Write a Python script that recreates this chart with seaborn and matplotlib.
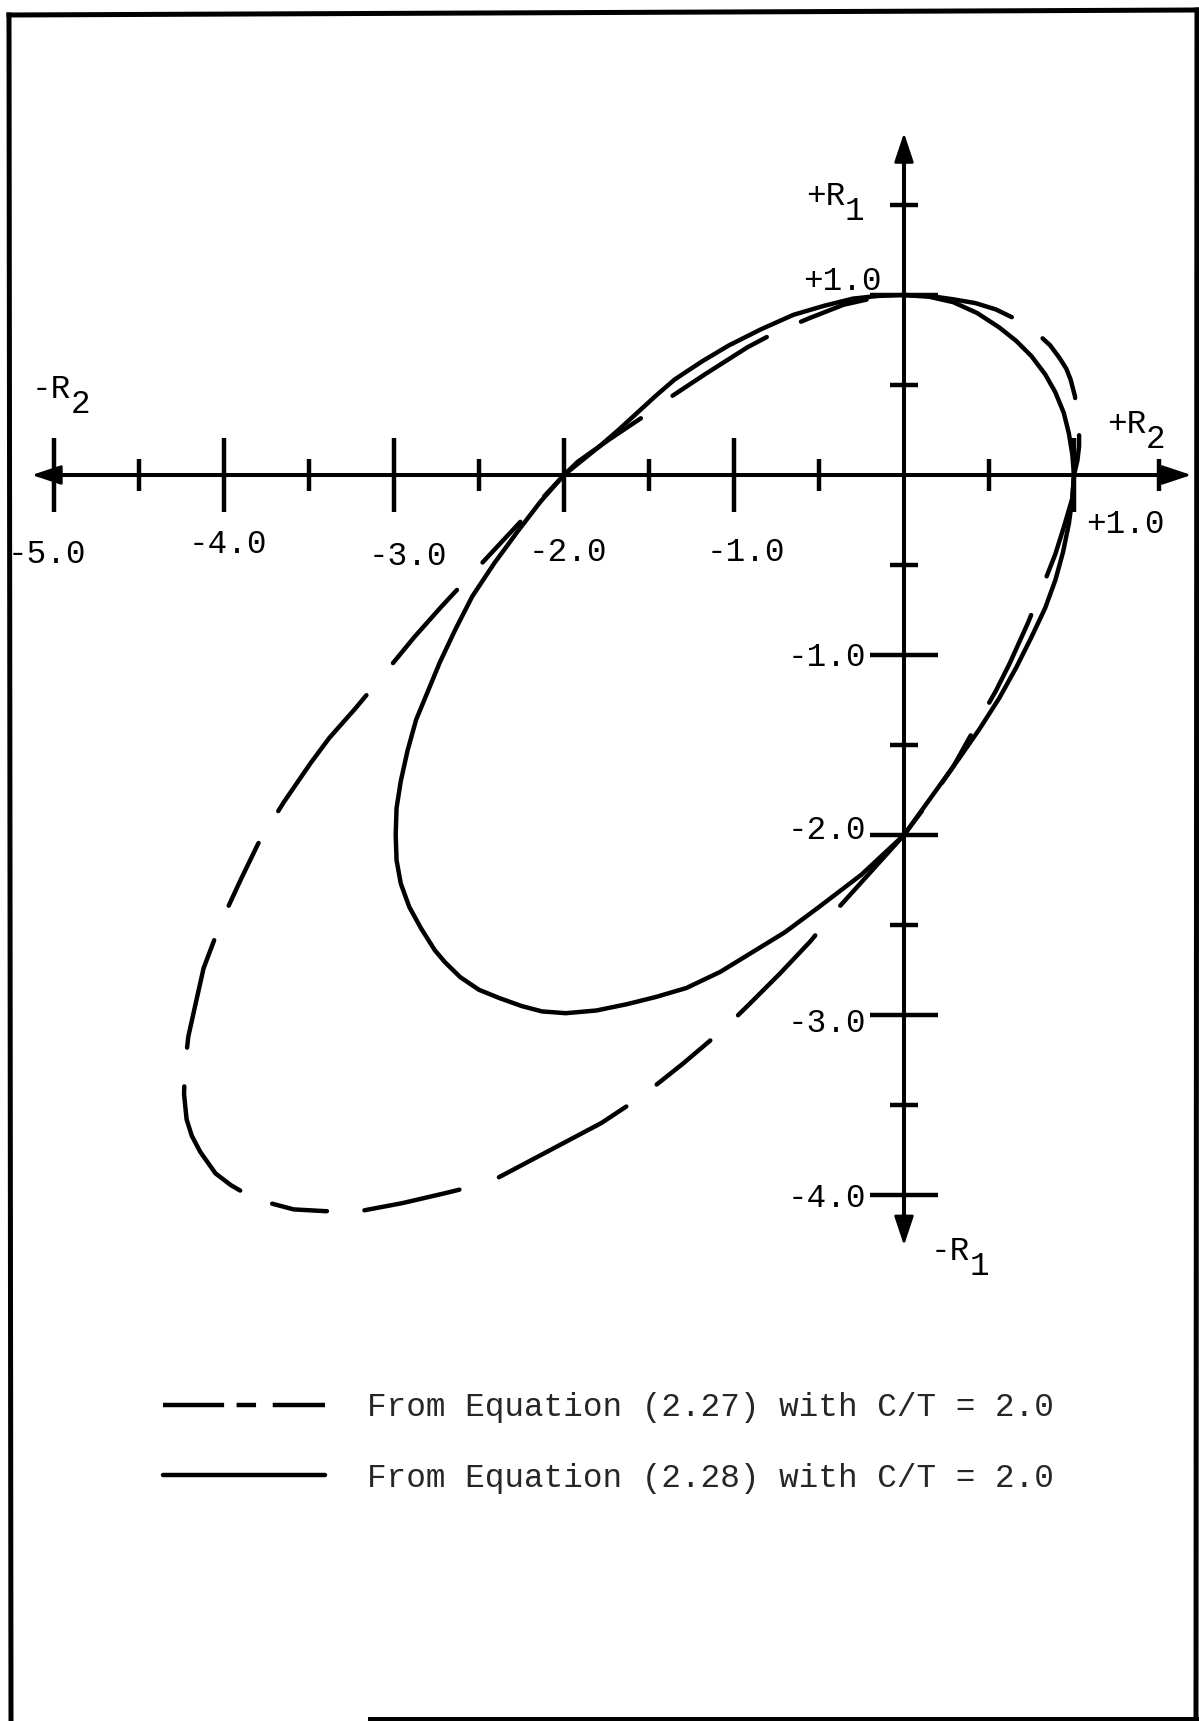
import matplotlib
matplotlib.use("Agg")
import matplotlib.pyplot as plt
from matplotlib.lines import Line2D
import seaborn as sns

# ---- curves in the (R2, R1) plane ----------------------------------------
# Equation (2.27), C/T = 2.0  (dashed)
eq227_r2 = [0.00, 0.15, 0.29, 0.42, 0.54, 0.66, 0.78, 0.86, 0.915, 0.955,
            0.98, 1.005, 1.02, 1.03, 1.03, 1.02, 1.00, 0.99, 0.94, 0.89,
            0.83, 0.73, 0.62, 0.54, 0.42, 0.29, 0.15, 0.00, -0.21, -0.42,
            -0.55, -0.73, -0.91, -1.05, -1.30, -1.54, -1.78, -2.12, -2.44,
            -2.70, -2.95, -3.18, -3.40, -3.59, -3.75, -3.86, -3.96, -4.05,
            -4.14, -4.19, -4.22, -4.235, -4.23, -4.21, -4.17, -4.12, -4.02,
            -3.90, -3.80, -3.65, -3.49, -3.38, -3.23, -3.08, -2.88, -2.72,
            -2.36, -2.00, -1.92, -1.73, -1.54, -1.41, -1.17, -0.92, -0.76,
            -0.56, -0.355, -0.17, 0.00]
eq227_r1 = [1.00, 0.995, 0.976, 0.955, 0.92, 0.865, 0.79, 0.72, 0.65, 0.59,
            0.53, 0.44, 0.345, 0.25, 0.16, 0.08, 0.00, -0.13, -0.29, -0.44,
            -0.585, -0.82, -1.05, -1.20, -1.40, -1.62, -1.81, -2.00, -2.22,
            -2.44, -2.59, -2.77, -2.94, -3.07, -3.27, -3.45, -3.60, -3.77,
            -3.93, -3.99, -4.045, -4.086, -4.09, -4.08, -4.04, -4.00, -3.945,
            -3.88, -3.76, -3.67, -3.58, -3.44, -3.29, -3.12, -2.95, -2.74,
            -2.49, -2.245, -2.05, -1.82, -1.60, -1.46, -1.30, -1.13, -0.90,
            -0.73, -0.365, 0.00, 0.073, 0.20, 0.32, 0.41, 0.56, 0.71, 0.79,
            0.87, 0.946, 0.985, 1.00]

# Equation (2.28), C/T = 2.0  (solid)
eq228_r2 = [0.00, 0.15, 0.29, 0.43, 0.56, 0.66, 0.75, 0.83, 0.89, 0.94,
            0.97, 0.99, 1.00, 0.99, 0.97, 0.935, 0.89, 0.83, 0.75, 0.66,
            0.56, 0.445, 0.32, 0.16, 0.00, -0.25, -0.50, -0.70, -0.89, -1.08,
            -1.28, -1.46, -1.63, -1.81, -1.99, -2.13, -2.25, -2.38, -2.50,
            -2.61, -2.70, -2.76, -2.84, -2.91, -2.96, -2.985, -2.99, -2.985,
            -2.96, -2.92, -2.87, -2.80, -2.73, -2.64, -2.54, -2.41, -2.27,
            -2.14, -2.00, -1.895, -1.79, -1.68, -1.57, -1.46, -1.35, -1.19,
            -1.03, -0.84, -0.65, -0.47, -0.30, -0.15, 0.00]
eq228_r1 = [1.00, 0.99, 0.96, 0.90, 0.82, 0.745, 0.66, 0.56, 0.46, 0.345,
            0.23, 0.115, 0.00, -0.13, -0.27, -0.43, -0.585, -0.74, -0.90,
            -1.07, -1.24, -1.41, -1.58, -1.79, -2.00, -2.22, -2.40, -2.54,
            -2.65, -2.76, -2.85, -2.90, -2.94, -2.975, -2.99, -2.98, -2.95,
            -2.906, -2.86, -2.79, -2.707, -2.64, -2.52, -2.40, -2.27, -2.14,
            -2.00, -1.85, -1.70, -1.53, -1.36, -1.20, -1.04, -0.86, -0.675,
            -0.49, -0.31, -0.15, 0.00, 0.08, 0.16, 0.25, 0.345, 0.44, 0.53,
            0.63, 0.72, 0.81, 0.89, 0.94, 0.98, 0.995, 1.00]

# ---- axis ticks and labels ------------------------------------------------
r2_major = [-5, -4, -3, -2, -1, 1]
r2_minor = [-4.5, -3.5, -2.5, -1.5, -0.5, 0.5, 1.5]
r2_labels = ["-5.0", "-4.0", "-3.0", "-2.0", "-1.0", "+1.0"]
r1_major = [1, -1, -2, -3, -4]
r1_minor = [1.5, 0.5, -0.5, -1.5, -2.5, -3.5]
r1_labels = ["+1.0", "-1.0", "-2.0", "-3.0", "-4.0"]
legend_labels = ["From Equation (2.27) with C/T = 2.0",
                 "From Equation (2.28) with C/T = 2.0"]

# ---- style ------------------------------------------------------------------
sns.set_theme(style="white")
plt.rcParams["font.family"] = ["Liberation Mono", "DejaVu Sans"]
plt.rcParams["lines.scale_dashes"] = False
FS = 23.5
LW = 3.2
AX_LW = 2.9
curve_dash = (0, (80, 27, 50, 27, 105, 30, 70, 27, 40, 25, 90, 28))
legend_dash = (0, (44, 9, 14, 12, 70, 28))

W, H = 1199, 1721
fig = plt.figure(figsize=(W / 100, H / 100), dpi=100)
ax = fig.add_axes([0, 0, 1, 1])
# origin at pixel (904, 475); 170 px per unit along R2, 180 px per unit along R1
ax.set_xlim(-904 / 170, (W - 904) / 170)
ax.set_ylim(-(H - 475) / 180, 475 / 180)
ax.set_facecolor("white")

# curves
sns.lineplot(x=eq228_r2, y=eq228_r1, sort=False, estimator=None, ax=ax,
             color="black", lw=LW, solid_joinstyle="round",
             solid_capstyle="round")
sns.lineplot(x=eq227_r2, y=eq227_r1, sort=False, estimator=None, ax=ax,
             color="black", lw=LW, linestyle=curve_dash,
             dash_capstyle="round", dash_joinstyle="round")

# cross-shaped axes through the origin
for side in ["top", "right"]:
    ax.spines[side].set_visible(False)
for side in ["left", "bottom"]:
    ax.spines[side].set_position(("data", 0))
    ax.spines[side].set_color("black")
    ax.spines[side].set_linewidth(AX_LW)
ax.spines["bottom"].set_bounds(-5.0, 1.6)
ax.spines["left"].set_bounds(-4.15, 1.75)

ax.set_xticks(r2_major)
ax.set_xticks(r2_minor, minor=True)
ax.set_yticks(r1_major)
ax.set_yticks(r1_minor, minor=True)
ax.tick_params(which="both", bottom=True, left=True, top=False, right=False,
               labelbottom=False, labelleft=False, color="black")
ax.tick_params(axis="x", which="major", direction="inout", length=53, width=3.2)
ax.tick_params(axis="x", which="minor", direction="inout", length=23, width=3.2)
ax.tick_params(axis="y", which="major", direction="inout", length=49, width=3.2)
ax.tick_params(axis="y", which="minor", direction="inout", length=20, width=3.2)

# arrow heads at the axis ends
head = dict(arrowstyle="-|>,head_length=0.6,head_width=0.2", color="black",
            lw=2.0, mutation_scale=30, shrinkA=0, shrinkB=0)
for tip, tail in [((-5.13, 0), (-4.95, 0)), ((1.69, 0), (1.5, 0)),
                  ((0, 1.90), (0, 1.70)), ((0, -4.28), (0, -4.10))]:
    ax.annotate("", xy=tip, xytext=tail, arrowprops=head)

# typed tick labels
txt = dict(fontsize=FS, color="black", family=["Liberation Mono", "DejaVu Sans"])
r2_label_dx = [-0.04, 0.02, 0.08, 0.02, 0.07, 0.30]
r2_label_y = [-0.489, -0.433, -0.50, -0.478, -0.478, -0.322]
for v, s, dx, yb in zip(r2_major, r2_labels, r2_label_dx, r2_label_y):
    ax.text(v + dx, yb, s, ha="center", va="baseline", **txt)

r1_label_x = [-0.13, -0.22, -0.22, -0.22, -0.22]
r1_label_y = [1.028, -1.06, -2.02, -3.094, -4.067]
for s, xr, yb in zip(r1_labels, r1_label_x, r1_label_y):
    ax.text(xr, yb, s, ha="right", va="baseline", **txt)

# axis names with typewriter subscripts
for name, sub, xy in [("+R", "1", (-0.576, 1.50)),
                      ("-R", "2", (-5.13, 0.428)),
                      ("+R", "2", (1.194, 0.233)),
                      ("-R", "1", (0.159, -4.36))]:
    ax.text(xy[0], xy[1], name, ha="left", va="baseline", **txt)
    ax.annotate(sub, xy=xy, xytext=(28, -11), textcoords="offset points",
                ha="left", va="baseline", **txt)

# legend
handles = [Line2D([], [], color="black", lw=LW, linestyle=legend_dash),
           Line2D([], [], color="black", lw=LW)]
ax.legend(handles, legend_labels, loc="upper left",
          bbox_to_anchor=(163 / W, 1 - 1392 / H), bbox_transform=fig.transFigure,
          frameon=False, borderpad=0, borderaxespad=0, handlelength=4.95,
          handletextpad=1.3, labelspacing=1.22,
          prop={"family": ["Liberation Mono", "DejaVu Sans"], "size": FS})

# page frame
frame = dict(color="black", lw=3.6, transform=fig.transFigure, clip_on=False,
             solid_capstyle="projecting")
fig.add_artist(Line2D([9 / W, 1197 / W], [1 - 15 / H, 1 - 10 / H], **frame))
fig.add_artist(Line2D([9 / W, 11 / W], [1 - 15 / H, 0], **frame))
fig.add_artist(Line2D([1197 / W, 1196 / W], [1 - 10 / H, 1 - 1719 / H], **frame))
fig.add_artist(Line2D([370 / W, 1196 / W], [1 - 1719 / H, 1 - 1719 / H], **frame))

fig.savefig("out.png", dpi=100, facecolor="white")
